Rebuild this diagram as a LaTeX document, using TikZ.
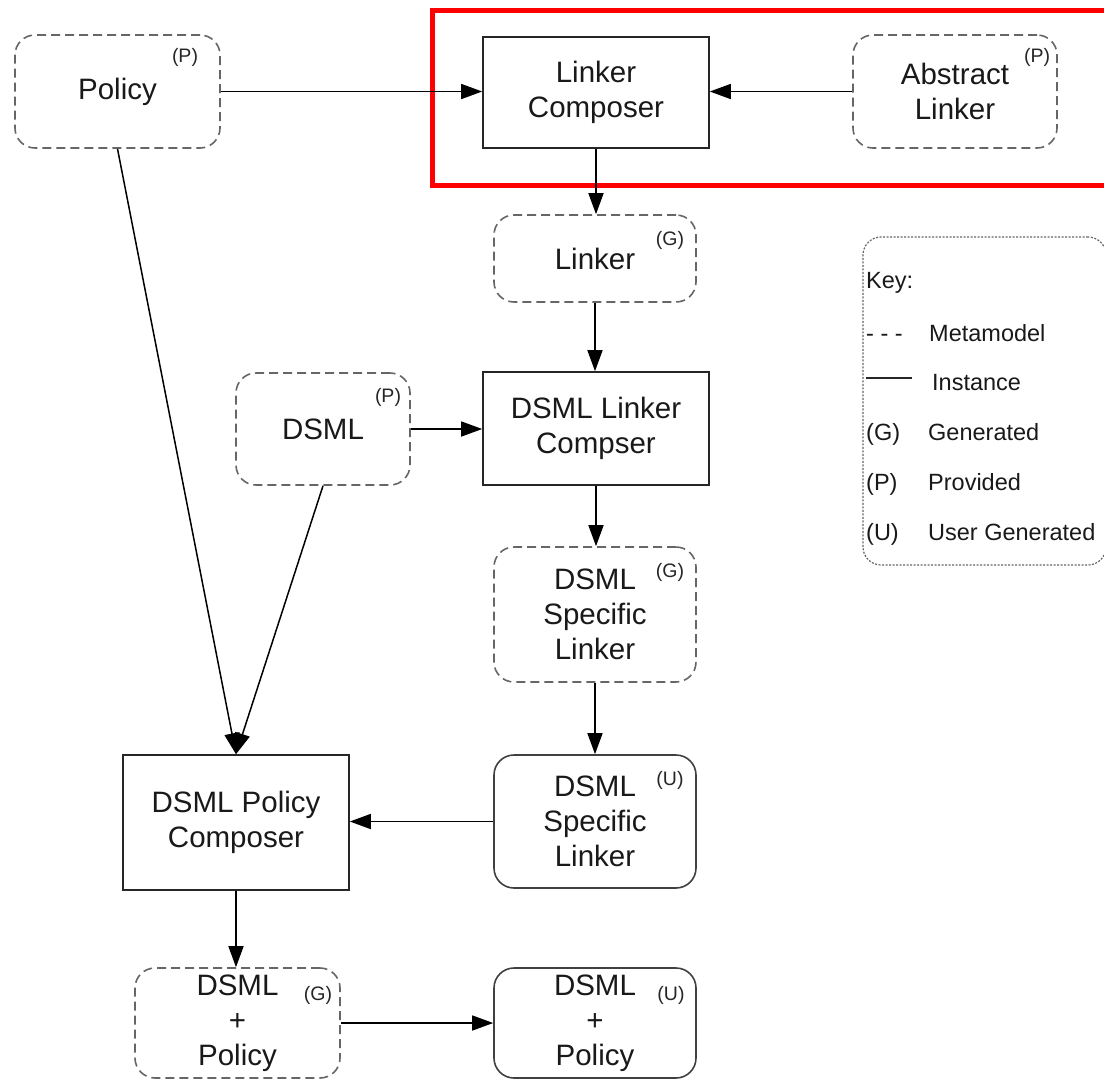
\documentclass[tikz,border=0pt]{standalone}
\usepackage{fontspec}
\setmainfont{Liberation Sans}
\usetikzlibrary{arrows.meta}
\begin{document}
\begin{tikzpicture}[x=1pt,y=-1pt,
  base/.style={align=center,inner sep=0pt,font=\fontsize{29.5}{35}\selectfont,text=black!90},
  dashbox/.style={base,draw=black!60,line width=1.6pt,dash pattern=on 9pt off 5pt,rounded corners=20pt},
  solidbox/.style={base,draw=black!85,line width=1.6pt},
  ubox/.style={base,draw=black!75,line width=1.6pt,rounded corners=20pt},
  tag/.style={inner sep=0pt,font=\fontsize{19.5}{21}\selectfont,text=black!85},
  keytxt/.style={inner sep=0pt,anchor=base west,font=\fontsize{23.5}{25}\selectfont,text=black!90},
  conn/.style={line width=1.5pt,-{Triangle[length=21pt,width=15pt]}}]
\useasboundingbox (0,0) rectangle (1104,1080);
\fill[white] (0,0) rectangle (1104,1080);
% red highlight
\draw[red,line width=5pt] (432,10) rectangle (1112,185);
% nodes
\node[dashbox,minimum width=205pt,minimum height=113pt] (policy) at (117.5,91.5) {Policy};
\node[tag] (tpolicy) at (185,57) {(P)};
\node[solidbox,minimum width=226pt,minimum height=111pt] (lc) at (596,92.5) {Linker\\Composer};
\node[dashbox,minimum width=204pt,minimum height=113pt] (al) at (955,91.5) {Abstract\\Linker};
\node[tag] (tal) at (1037,57) {(P)};
\node[dashbox,minimum width=202pt,minimum height=87pt] (linker) at (595,258.5) {Linker};
\node[tag] (tlinker) at (670,240) {(G)};
\node[dashbox,minimum width=174pt,minimum height=112pt] (dsml) at (323,429) {DSML};
\node[tag] (tdsml) at (388,397) {(P)};
\node[solidbox,minimum width=226pt,minimum height=113pt] (dlc) at (596,428.5) {DSML Linker\\Compser};
\node[dashbox,minimum width=202pt,minimum height=135pt] (dslg) at (595,614.5) {DSML\\Specific\\Linker};
\node[tag] (tdslg) at (670,572) {(G)};
\node[ubox,minimum width=202pt,minimum height=133pt] (dslu) at (595,821.5) {DSML\\Specific\\Linker};
\node[tag] (tdslu) at (670,780) {(U)};
\node[solidbox,minimum width=226pt,minimum height=135pt] (dpc) at (236,822.5) {DSML Policy\\Composer};
\node[dashbox,minimum width=205pt,minimum height=110pt] (dpg) at (237.5,1023) {DSML\\+\\Policy};
\node[tag] (tdpg) at (318,995) {(G)};
\node[ubox,minimum width=202pt,minimum height=110pt] (dpu) at (595,1023) {DSML\\+\\Policy};
\node[tag] (tdpu) at (671,995) {(U)};
% key
\node[draw=black!60,line width=1.2pt,dash pattern=on 2pt off 1.5pt,rounded corners=18pt,
      minimum width=243pt,minimum height=328pt,inner sep=0pt] (key) at (984.5,401) {};
\node[keytxt] (k0) at (866,288) {Key:};
\node[keytxt] (k1a) at (866,341) {- - -};
\node[keytxt] (k1) at (929,341) {Metamodel};
\coordinate (kl1) at (866,378);
\coordinate (kl2) at (912,378);
\draw[line width=1.4pt,black!85] (kl1) -- (kl2);
\node[keytxt] (k2) at (932,390) {Instance};
\node[keytxt] (k3a) at (866,440) {(G)};
\node[keytxt] (k3) at (928,440) {Generated};
\node[keytxt] (k4a) at (866,490) {(P)};
\node[keytxt] (k4) at (928,490) {Provided};
\node[keytxt] (k5a) at (866,540) {(U)};
\node[keytxt] (k5) at (928,540) {User Generated};
% connectors
\draw[conn] (policy.east) -- (policy.east -| lc.west);
\draw[conn] (al.west) -- (al.west -| lc.east);
\draw[conn] (lc.south) -- (lc.south |- linker.north);
\draw[conn] (linker.south) -- (linker.south |- dlc.north);
\draw[conn] (dsml.east) -- (dsml.east -| dlc.west);
\draw[conn] (dlc.south) -- (dlc.south |- dslg.north);
\draw[conn] (dslg.south) -- (dslg.south |- dslu.north);
\draw[conn] (dslu.west) -- (dslu.west -| dpc.east);
\draw[conn] (policy.south) -- (dpc.north);
\draw[conn] (dsml.south) -- (dpc.north);
\draw[conn] (dpc.south) -- (dpc.south |- dpg.north);
\draw[conn] (dpg.east) -- (dpg.east -| dpu.west);
\end{tikzpicture}
\end{document}
